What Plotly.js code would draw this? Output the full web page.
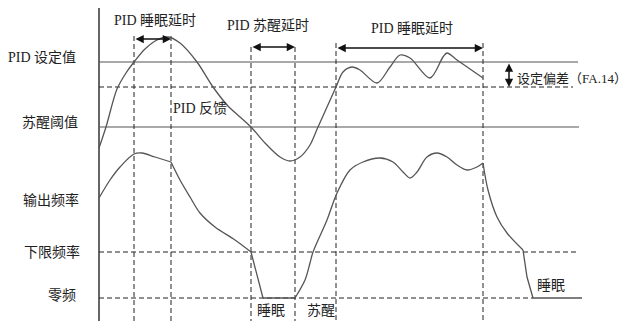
<!DOCTYPE html>
<html>
<head>
<meta charset="utf-8">
<script src="https://cdn.plot.ly/plotly-3.0.1.min.js"></script>
<style>
  html, body { margin: 0; padding: 0; background: #fff; }
  #chart { width: 630px; height: 321px; }
</style>
</head>
<body>
<div id="chart"></div>
<script>
// time axis runs left to right, level axis is drawn top-down (small = high)
let axisTime = 99;
let axisTop = 8;
let bottomLevel = 321;

// reference levels
let setpointLevel = 62;
let deviationLevel = 87;
let wakeLevel = 127;
let lowerFreqLevel = 252;
let zeroFreqLevel = 298;

// event times (dashed verticals) and where each dashed line starts
let eventTimes = [134, 171, 251, 295, 336, 483];
let eventTops = [36, 36, 47, 47, 43, 43];

// PID feedback curve
let feedbackTime = [99, 106, 117, 126, 134, 145, 157, 168, 180, 197, 213, 228, 240, 251, 265, 280, 290, 300, 310, 318, 327, 336, 343, 352, 360, 377, 390, 400, 410, 430, 443, 447, 457, 483];
let feedbackValue = [148, 127, 89, 73, 62, 49, 40, 37, 43, 62, 87, 106, 117, 127, 143, 157, 161, 157, 145, 127, 107, 87, 72, 67, 70, 83, 67, 55, 58, 78, 57, 53, 60, 78];

// output frequency, in pieces split at the corners
let outRiseTime = [99, 110, 120, 134, 142, 155, 171];
let outRiseValue = [198, 180, 167, 154, 153, 157, 162];
let outFallTime = [171, 180, 190, 200, 215, 235, 251];
let outFallValue = [162, 180, 197, 213, 227, 240, 252];
let outSleepTime = [251, 255, 263, 295];
let outSleepValue = [252, 267, 298, 298];
let outWakeTime = [295, 305, 310, 313, 327, 337, 350, 363, 380, 393, 403, 410, 417, 427, 437, 447, 457, 467, 477, 483];
let outWakeValue = [298, 280, 263, 252, 220, 193, 170, 162, 158, 162, 172, 178, 172, 157, 153, 157, 165, 170, 167, 163];
let outDropTime = [483, 488, 497, 507, 523];
let outDropValue = [163, 190, 217, 233, 250];
let outEndTime = [523, 527, 533, 582];
let outEndValue = [250, 277, 298, 298];

// left side level labels
let levelLabels = ['PID 设定值', '苏醒阈值', '输出频率', '下限频率', '零频'];
let levelLabelRight = [78, 80, 81, 82, 78];
let levelLabelY = [57, 122, 200, 252, 295];

let curveColor = '#555';
let dashColor = '#222';
let fontFamily = 'Liberation Serif, Noto Sans CJK SC, serif';

function line(x, y, color, dash, width) {
    return {
        x: x,
        y: y,
        mode: 'lines',
        hoverinfo: 'skip',
        line: { color: color, dash: dash, width: width }
    };
}

function curve(x, y) {
    return {
        x: x,
        y: y,
        mode: 'lines',
        hoverinfo: 'skip',
        line: { color: curveColor, width: 1.3, shape: 'spline', smoothing: 0.9 }
    };
}

// dashed verticals in one trace, split by nulls
let vx = [];
let vy = [];
for (let i = 0; i < eventTimes.length; i++) {
    vx.push(eventTimes[i], eventTimes[i], null);
    vy.push(eventTops[i], bottomLevel, null);
}

let data = [
    line([axisTime, axisTime], [axisTop, bottomLevel], '#333', 'solid', 1.5),
    line([axisTime, 578], [setpointLevel, setpointLevel], curveColor, 'solid', 1.2),
    line([axisTime, 573], [deviationLevel, deviationLevel], dashColor, '5px,3px', 1),
    line([axisTime, 579], [wakeLevel, wakeLevel], curveColor, 'solid', 1.2),
    line([axisTime, 577], [lowerFreqLevel, lowerFreqLevel], dashColor, '5px,3px', 1),
    line([axisTime, 533], [zeroFreqLevel, zeroFreqLevel], dashColor, '5px,3px', 1),
    line(vx, vy, dashColor, '5px,3px', 1),
    curve(feedbackTime, feedbackValue),
    curve(outRiseTime, outRiseValue),
    curve(outFallTime, outFallValue),
    line(outSleepTime, outSleepValue, curveColor, 'solid', 1.3),
    curve(outWakeTime, outWakeValue),
    curve(outDropTime, outDropValue),
    line(outEndTime, outEndValue, curveColor, 'solid', 1.3)
];

let annotations = [];

function text(label, x, y, anchor, size) {
    annotations.push({
        x: x, y: y, xref: 'x', yref: 'y',
        text: label, showarrow: false,
        xanchor: anchor, yanchor: 'middle',
        font: { family: fontFamily, size: size || 14, color: '#222' }
    });
}

function arrow(x1, y1, x2, y2) {
    annotations.push({
        x: x2, y: y2, ax: x1, ay: y1,
        xref: 'x', yref: 'y', axref: 'x', ayref: 'y',
        text: '', showarrow: true,
        arrowside: 'end+start', arrowhead: 2, arrowsize: 1.1,
        arrowwidth: 1.5, arrowcolor: '#111', standoff: 0, startstandoff: 0
    });
}

for (let i = 0; i < levelLabels.length; i++) {
    text(levelLabels[i], levelLabelRight[i], levelLabelY[i], 'right');
}

text('PID 睡眠延时', 155, 20, 'center');
text('PID 苏醒延时', 268, 25, 'center');
text('PID 睡眠延时', 412, 28, 'center');
text('PID 反馈', 200, 108, 'center');
text('设定偏差（FA.14）', 515, 78, 'left', 13);
text('睡眠', 271, 310, 'center');
text('苏醒', 321, 310, 'center');
text('睡眠', 551, 285, 'center');

arrow(eventTimes[0], 39, eventTimes[1], 39);
arrow(eventTimes[2], 47, eventTimes[3], 47);
arrow(eventTimes[4], 48, eventTimes[5], 48);
arrow(509, setpointLevel, 509, deviationLevel);

let layout = {
    width: 630,
    height: 321,
    margin: { l: 0, r: 0, t: 0, b: 0 },
    paper_bgcolor: '#fff',
    plot_bgcolor: '#fff',
    showlegend: false,
    xaxis: { range: [0, 630], visible: false, fixedrange: true },
    yaxis: { range: [321, 0], visible: false, fixedrange: true },
    annotations: annotations
};

Plotly.newPlot('chart', data, layout, { staticPlot: true });
</script>
</body>
</html>
